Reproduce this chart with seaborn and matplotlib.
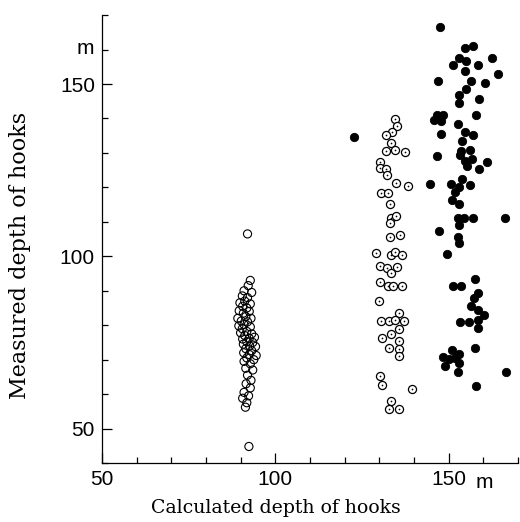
import pandas as pd
import seaborn as sns
import matplotlib.pyplot as plt
from matplotlib.ticker import MultipleLocator

# open circles (calculated ~92 m)
open_x = [92.0, 92.8, 92.2, 91.0, 93.2, 90.5, 92.0, 91.2, 89.8, 92.8, 90.6, 91.8, 89.6, 92.5,
          90.8, 91.5, 89.2, 93.0, 90.2, 92.0, 91.0, 89.5, 92.8, 90.5, 91.8, 90.0, 93.2, 91.2,
          92.5, 90.6, 94.0, 91.8, 93.5, 90.8, 92.6, 94.3, 91.5, 93.2, 90.9, 92.5, 94.5, 91.8,
          93.8, 91.0, 92.8, 91.5, 93.5, 92.0, 93.0, 91.6, 92.8, 91.0, 92.3, 90.6, 91.8, 91.4,
          92.4]
open_y = [106.5, 93.0, 91.5, 90.0, 89.5, 88.5, 88.0, 87.0, 86.5, 86.2, 85.5, 85.0, 84.2, 84.0,
          83.5, 82.5, 82.0, 82.0, 81.2, 81.0, 80.2, 79.8, 79.5, 79.0, 78.2, 77.8, 77.5, 77.0,
          76.2, 76.0, 76.5, 75.2, 75.0, 74.5, 74.0, 73.8, 73.2, 72.6, 72.0, 71.5, 71.2, 70.5,
          70.0, 69.5, 68.8, 67.5, 67.0, 65.5, 64.0, 63.0, 61.8, 60.5, 59.5, 58.8, 57.5, 56.2,
          44.8]

# dotted circles (calculated ~133 m)
dot_x = [134.6, 135.1, 133.7, 132.0, 133.5, 132.0, 134.6, 137.5, 130.3, 130.1, 132.0, 132.2,
         134.9, 138.2, 130.6, 132.5, 133.0, 133.5, 134.8, 133.0, 133.2, 136.1, 129.2, 133.5,
         134.6, 136.6, 130.3, 132.2, 133.4, 135.1, 130.3, 132.5, 134.1, 136.6, 129.8, 135.6,
         130.6, 132.7, 134.6, 137.0, 135.6, 130.8, 133.4, 135.6, 132.7, 135.6, 135.6, 130.3,
         130.8, 139.4, 133.4, 132.9, 135.6]
dot_y = [139.8, 137.7, 136.0, 135.3, 132.8, 130.5, 130.9, 130.4, 127.5, 125.6, 125.4, 123.5,
         121.3, 120.3, 118.5, 118.5, 115.1, 111.0, 111.8, 109.6, 105.5, 106.2, 100.9, 100.4,
         101.2, 100.4, 97.1, 96.6, 95.1, 96.8, 92.5, 91.3, 91.3, 91.3, 87.0, 83.6,
         81.2, 81.2, 81.5, 81.2, 79.0, 76.2, 77.4, 75.3, 73.5, 73.1, 71.1, 65.2,
         62.7, 61.5, 57.9, 55.6, 55.6]

# filled circles (calculated ~153 m)
fill_x = [122.6,
          147.6, 154.6, 157.0, 152.9, 151.2, 155.0, 154.8, 158.5, 162.5, 164.2, 146.9, 156.6,
          155.0, 160.6,
          152.9, 152.9, 158.9, 157.9, 145.7, 146.6, 148.3, 147.9, 152.6, 147.8, 154.6, 157.0,
          153.8, 146.6, 153.6, 156.2, 153.4, 154.8, 156.7, 155.3, 161.2, 158.8, 153.8,
          144.7, 150.8, 153.1, 156.3, 151.9, 151.0, 153.1, 152.7, 154.4, 156.9, 166.4, 153.1,
          147.1, 152.7, 153.1, 149.5,
          157.5, 151.2, 153.5, 158.6, 157.2, 156.5, 158.4, 160.1, 158.4, 153.4, 155.8, 158.6,
          157.7, 151.0, 152.9, 148.3, 150.0, 151.9, 152.9, 149.0, 152.7, 166.6, 157.9]
fill_y = [134.7,
          166.7, 160.6, 160.9, 157.7, 155.6, 156.6, 153.7, 155.6, 157.7, 152.9, 150.8, 150.8,
          148.7, 150.3,
          146.8, 144.4, 145.6, 141.0, 139.5, 141.1, 141.1, 139.3, 138.4, 135.5, 136.2, 135.2,
          133.4, 129.0, 130.7, 130.9, 129.3, 127.8, 128.3, 126.1, 127.5, 125.2, 122.5,
          121.0, 120.9, 120.1, 120.6, 118.6, 116.4, 115.1, 111.0, 111.2, 111.2, 111.2, 109.0,
          107.4, 105.7, 103.8, 100.7,
          93.5, 91.3, 91.3, 89.4, 87.8, 85.5, 84.4, 83.1, 81.5, 81.0, 81.0, 79.3,
          73.5, 72.8, 71.6, 70.8, 70.2, 70.4, 69.0, 68.2, 66.3, 66.5, 62.3]

df_open = pd.DataFrame({'calc': open_x, 'meas': open_y})
df_dot = pd.DataFrame({'calc': dot_x, 'meas': dot_y})
df_fill = pd.DataFrame({'calc': fill_x, 'meas': fill_y})

sns.set_style('ticks')
plt.rcParams['font.family'] = ['Liberation Sans', 'DejaVu Sans']
plt.rcParams['text.color'] = 'black'
plt.rcParams['xtick.color'] = 'black'
plt.rcParams['ytick.color'] = 'black'
plt.rcParams['axes.labelcolor'] = 'black'

fig = plt.figure(figsize=(5.2, 5.22), dpi=100)
ax = fig.add_axes([0.196, 0.113, 0.8, 0.858])

sns.scatterplot(data=df_open, x='calc', y='meas', ax=ax, marker='o', s=34,
                facecolor='none', edgecolor='black', linewidth=0.8)
sns.scatterplot(data=df_dot, x='calc', y='meas', ax=ax, marker='o', s=34,
                facecolor='white', edgecolor='black', linewidth=0.9)
sns.scatterplot(data=df_dot, x='calc', y='meas', ax=ax, marker='o', s=1.5,
                color='black', linewidth=0)
sns.scatterplot(data=df_fill, x='calc', y='meas', ax=ax, marker='o', s=36,
                color='black', edgecolor='black', linewidth=0.6)

ax.set_xlim(50, 170)
ax.set_ylim(40, 170)
sns.despine(ax=ax)
for sp in ['left', 'bottom']:
    ax.spines[sp].set_linewidth(0.9)
    ax.spines[sp].set_color('black')

ax.xaxis.set_major_locator(MultipleLocator(50))
ax.xaxis.set_minor_locator(MultipleLocator(10))
ax.yaxis.set_major_locator(MultipleLocator(50))
ax.yaxis.set_minor_locator(MultipleLocator(10))
ax.tick_params(which='major', direction='in', length=7, width=0.9, labelsize=15, pad=5)
ax.tick_params(which='minor', direction='in', length=4, width=0.9)
ax.set_xticks([50, 100, 150])
ax.set_xticklabels(['50', '100', '150'])
ax.set_yticks([50, 100, 150])
ax.set_yticklabels(['50', '100', '150'])

# unit marks
ax.text(0.897, -0.022, 'm', transform=ax.transAxes, fontsize=15, ha='left', va='top')
ax.text(-0.02, 0.905, 'm', transform=ax.transAxes, fontsize=15, ha='right', va='bottom')

ax.set_xlabel('Calculated depth of hooks', family='DejaVu Serif', fontsize=13.6, va='center')
ax.set_ylabel('Measured depth of hooks', family='DejaVu Serif', fontsize=16, va='center')
ax.xaxis.set_label_coords(0.418, -0.1)
ax.yaxis.set_label_coords(-0.197, 0.464)

fig.savefig('out.png', dpi=100)
